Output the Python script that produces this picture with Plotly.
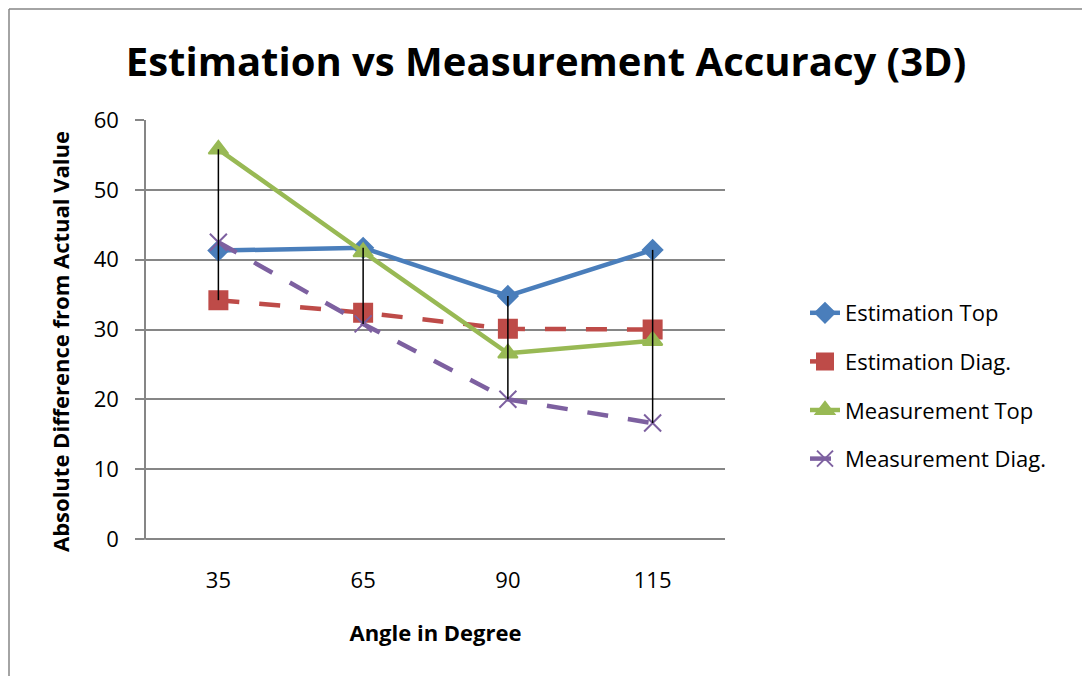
import plotly.graph_objects as go

# data
angles = ["35", "65", "90", "115"]
estimation_top = [41.3, 41.7, 34.8, 41.4]
estimation_diag = [34.2, 32.4, 30.1, 30.0]
measurement_top = [55.8, 41.1, 26.6, 28.4]
measurement_diag = [42.5, 30.8, 20.0, 16.6]

W, H = 1082, 676
L, R, T, B = 146, 725, 120, 539    # plot area in page pixels

FONT = "Open Sans"
GRID = "#868686"


def px_x(x):
    return (x - L) / (R - L)


def px_y(y):
    return (B - y) / (B - T)


fig = go.Figure()

series = [
    ("Estimation Top", estimation_top, "#4A7EBB", "solid", "diamond", 15),
    ("Estimation Diag.", estimation_diag, "#BE4B48", "21px,20px", "square", 18),
    ("Measurement Top", measurement_top, "#98B954", "solid", "triangle-up", 17),
    ("Measurement Diag.", measurement_diag, "#7D60A0", "21px,20px", "x-thin", 17),
]

for name, vals, color, dash, symbol, size in series:
    fig.add_trace(go.Scatter(
        x=angles, y=vals, name=name, mode="lines+markers",
        legendgroup=name,
        line=dict(color=color, width=4.5, dash=dash),
        marker=dict(symbol=symbol, size=size, color=color,
                    line=dict(color=color, width=2)),
    ))

# high-low lines between the max and min of the four series
hx, hy = [], []
all_vals = [estimation_top, estimation_diag, measurement_top, measurement_diag]
for i, a in enumerate(angles):
    col = [s[i] for s in all_vals]
    hx += [a, a, None]
    hy += [max(col), min(col), None]
fig.add_trace(go.Scatter(x=hx, y=hy, mode="lines", showlegend=False,
                         line=dict(color="black", width=1.5), hoverinfo="skip"))

fig.update_layout(
    width=W, height=H,
    margin=dict(l=L, r=W - R, t=T, b=H - B),
    paper_bgcolor="white", plot_bgcolor="white",
    font=dict(family=FONT, color="black"),
    title=dict(text="<b>Estimation vs Measurement Accuracy (3D)</b>",
               x=546 / W, xref="container", xanchor="center",
               y=1 - 62 / H, yref="container", yanchor="middle",
               font=dict(size=40, family=FONT)),
    legend=dict(x=px_x(805), y=px_y(292), xanchor="left", yanchor="top",
                font=dict(size=22, family=FONT), tracegroupgap=17,
                bgcolor="rgba(0,0,0,0)"),
    xaxis=dict(type="category", range=[-0.5, 3.5], showgrid=False,
               showline=False, ticks="", tickfont=dict(size=22),
               ticklabelstandoff=26,
               title=dict(text="<b>Angle in Degree</b>", font=dict(size=22),
                          standoff=32)),
    yaxis=dict(range=[0, 60], dtick=10, showgrid=True, gridcolor=GRID,
               gridwidth=1.5, showline=True, linecolor=GRID, linewidth=1.5,
               zeroline=True, zerolinecolor=GRID, zerolinewidth=1.5,
               ticks="outside", ticklen=9, tickcolor=GRID, tickwidth=1.5,
               tickfont=dict(size=22), ticklabelstandoff=12),
    annotations=[
        dict(text="<b>Absolute Difference from Actual Value</b>",
             xref="paper", yref="paper", x=px_x(60), y=px_y(342),
             xanchor="center", yanchor="middle", textangle=-90,
             showarrow=False, font=dict(size=22)),
    ],
    shapes=[
        # outer chart frame: only top and left edges fall inside the window
        dict(type="line", xref="paper", yref="paper",
             x0=px_x(9), x1=px_x(W + 20), y0=px_y(9), y1=px_y(9),
             line=dict(color=GRID, width=1.5)),
        dict(type="line", xref="paper", yref="paper",
             x0=px_x(9), x1=px_x(9), y0=px_y(9), y1=px_y(H + 20),
             line=dict(color=GRID, width=1.5)),
        dict(type="line", xref="paper", yref="paper",
             x0=px_x(L - 9), x1=0, y0=0, y1=0,
             line=dict(color=GRID, width=1.5)),
    ],
)

fig.write_html(
    "out.html",
    config={"displayModeBar": False},
    post_script="document.body.style.margin='0';"
                "document.body.style.overflow='hidden';",
)
